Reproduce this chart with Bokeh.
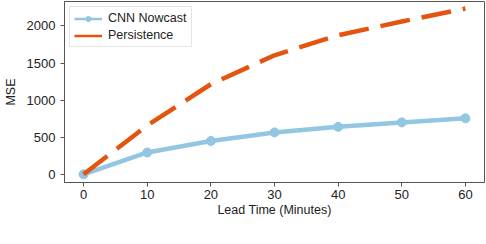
from bokeh.plotting import figure
from bokeh.models import Range1d, Legend, LegendItem, FixedTicker
from bokeh.embed import file_html
from bokeh.resources import INLINE

lead_time = [0, 10, 20, 30, 40, 50, 60]
cnn_nowcast = [0, 295, 450, 565, 640, 700, 755]
persistence = [0, 660, 1215, 1605, 1875, 2060, 2235]
x_ticks = [0, 10, 20, 30, 40, 50, 60]
y_ticks = [0, 500, 1000, 1500, 2000]

BLUE = "#93c6e0"
ORANGE = "#e5540f"
FONT = "Liberation Sans"

p = figure(width=486, height=222, output_backend="svg", toolbar_location=None,
           x_range=Range1d(-3, 63), y_range=Range1d(-110, 2330),
           min_border_left=64, min_border_right=2, min_border_top=1, min_border_bottom=40)
p.grid.visible = False
p.outline_line_color = "#555555"
p.outline_line_width = 1
p.background_fill_color = "white"

for ax in (p.xaxis[0], p.yaxis[0]):
    ax.axis_line_color = "#555555"
    ax.major_tick_line_color = "#555555"
    ax.major_tick_out = 4
    ax.major_tick_in = 0
    ax.minor_tick_line_color = None
    ax.major_label_text_font = FONT
    ax.major_label_text_font_size = "13px"
    ax.major_label_text_color = "#222222"
    ax.axis_label_text_font = FONT
    ax.axis_label_text_font_size = "12.5px"
    ax.axis_label_text_font_style = "normal"
    ax.axis_label_text_color = "#222222"

p.xaxis.ticker = FixedTicker(ticks=x_ticks)
p.yaxis.ticker = FixedTicker(ticks=y_ticks)
p.xaxis.axis_label = "Lead Time (Minutes)"
p.yaxis.axis_label = "MSE"
p.xaxis.axis_label_standoff = 1
p.yaxis.axis_label_standoff = 6
p.xaxis.major_label_standoff = 3
p.yaxis.major_label_standoff = 5

# legend proxies (thinner handles, as in the reference); single point, hidden under real marks
lg1 = p.line(lead_time[:1], cnn_nowcast[:1], line_color=BLUE, line_width=2.5)
lg1m = p.scatter(lead_time[:1], cnn_nowcast[:1], size=8, fill_color=BLUE, line_color=BLUE)
lg2 = p.line(lead_time[:1], persistence[:1], line_color=ORANGE, line_width=2.5)

p.line(lead_time, cnn_nowcast, line_color=BLUE, line_width=4.5)
p.scatter(lead_time, cnn_nowcast, size=9, fill_color=BLUE, line_color=BLUE)
p.line(lead_time, persistence, line_color=ORANGE, line_width=4.5, line_dash="30 12")

legend = Legend(items=[LegendItem(label="CNN Nowcast", renderers=[lg1, lg1m]),
                       LegendItem(label="Persistence", renderers=[lg2])],
                location="top_left")
legend.label_text_font = FONT
legend.label_text_font_size = "12.5px"
legend.label_text_color = "#222222"
legend.border_line_color = "#cccccc"
legend.glyph_width = 28
legend.glyph_height = 13
legend.label_height = 13
legend.spacing = 3
legend.padding = 4
legend.margin = 5
legend.label_standoff = 6
p.add_layout(legend)

open("out.html", "w").write(file_html(p, INLINE))
